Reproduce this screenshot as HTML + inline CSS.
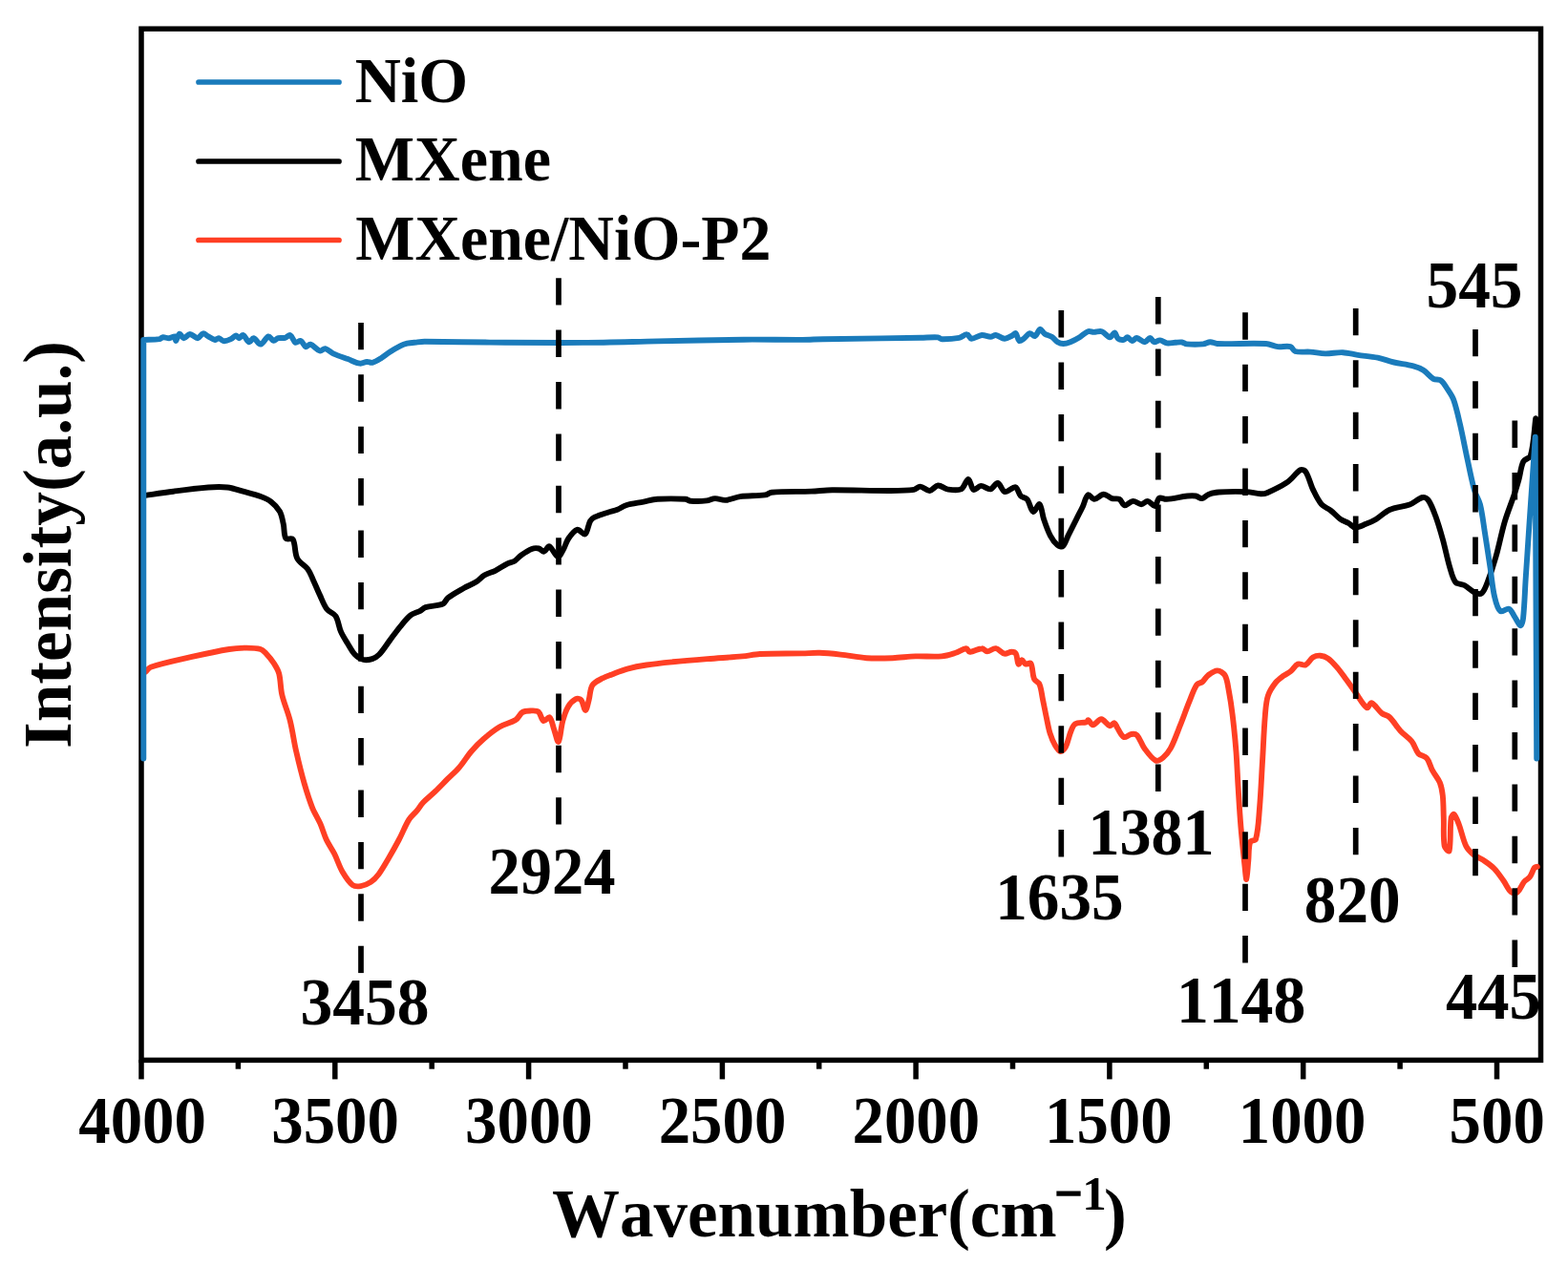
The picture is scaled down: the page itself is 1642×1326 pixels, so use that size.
<!DOCTYPE html>
<html><head><meta charset="utf-8"><title>FTIR spectra</title>
<style>html,body{margin:0;padding:0;background:#fff;}svg{display:block;}</style>
</head><body>
<svg width="1642" height="1326" viewBox="0 0 1642 1326">
<rect width="1642" height="1326" fill="#fff"/>
<g stroke="#000" stroke-width="5.5" fill="none">
<rect x="148" y="30.2" width="1465.5" height="1080.2"/>
<line x1="148.0" y1="1110" x2="148.0" y2="1130.4"/>
<line x1="249.4" y1="1110" x2="249.4" y2="1119.7"/>
<line x1="350.8" y1="1110" x2="350.8" y2="1130.4"/>
<line x1="452.2" y1="1110" x2="452.2" y2="1119.7"/>
<line x1="553.6" y1="1110" x2="553.6" y2="1130.4"/>
<line x1="655.0" y1="1110" x2="655.0" y2="1119.7"/>
<line x1="756.4" y1="1110" x2="756.4" y2="1130.4"/>
<line x1="857.7" y1="1110" x2="857.7" y2="1119.7"/>
<line x1="959.1" y1="1110" x2="959.1" y2="1130.4"/>
<line x1="1060.5" y1="1110" x2="1060.5" y2="1119.7"/>
<line x1="1161.9" y1="1110" x2="1161.9" y2="1130.4"/>
<line x1="1263.3" y1="1110" x2="1263.3" y2="1119.7"/>
<line x1="1364.7" y1="1110" x2="1364.7" y2="1130.4"/>
<line x1="1466.1" y1="1110" x2="1466.1" y2="1119.7"/>
<line x1="1567.5" y1="1110" x2="1567.5" y2="1130.4"/>
</g>
<g fill="none" stroke-width="5.9" stroke-linejoin="round" stroke-linecap="round">
<path d="M152.5 703.7 C154.1 702.2 155.5 699.4 157.8 698.7 C171.3 694.3 185.7 691.4 199.8 688.2 C213.1 685.2 226.5 682.2 240.0 680.0 C246.0 679.0 252.2 678.6 258.3 678.6 C263.2 678.6 268.4 678.7 272.9 680.0 C275.1 680.6 276.8 682.6 278.4 684.3 C281.5 687.6 284.4 691.1 286.9 694.8 C289.0 698.1 291.2 701.6 292.2 705.4 C294.0 712.6 293.6 720.3 295.3 727.6 C297.5 736.9 301.5 745.7 303.8 755.0 C306.4 765.4 307.7 776.2 310.1 786.7 C312.7 798.0 315.4 809.3 318.6 820.4 C321.1 829.0 323.7 837.5 327.0 845.8 C329.3 851.6 332.9 856.9 335.4 862.7 C337.8 868.2 339.3 874.1 341.8 879.5 C344.2 884.6 347.7 889.2 350.2 894.3 C353.3 900.5 355.2 907.3 358.7 913.3 C361.6 918.2 365.0 923.7 369.2 927.0 C371.3 928.6 375.0 928.5 377.7 928.1 C381.3 927.5 385.1 926.0 388.2 923.9 C391.5 921.7 394.3 918.6 396.7 915.4 C400.6 910.1 403.8 904.2 407.2 898.5 C410.9 892.2 414.4 885.9 417.8 879.5 C421.5 872.5 424.2 865.0 428.3 858.4 C430.5 854.8 434.1 852.2 436.8 848.9 C439.0 846.2 440.7 843.0 443.1 840.5 C447.0 836.4 451.7 832.9 455.8 828.9 C460.1 824.8 464.2 820.4 468.4 816.2 C472.6 812.0 477.2 808.1 481.1 803.6 C485.7 798.3 489.2 792.0 493.8 786.7 C497.7 782.2 501.9 777.9 506.4 774.0 C511.7 769.4 517.3 764.9 523.3 761.3 C528.5 758.2 535.0 757.3 540.0 754.1 C543.0 752.2 544.3 747.7 547.3 745.9 C549.8 744.4 553.4 744.5 556.4 744.4 C558.9 744.3 562.1 744.1 563.8 745.5 C566.3 747.6 566.8 753.8 569.2 755.0 C570.8 755.8 574.3 750.3 575.6 751.4 C578.0 753.4 578.7 759.9 580.2 764.1 C581.7 768.4 583.7 778.0 584.8 776.9 C586.7 775.0 587.3 762.2 589.3 755.0 C590.7 750.0 592.2 744.8 594.8 740.4 C596.7 737.2 599.9 733.8 603.0 732.2 C604.5 731.4 607.4 731.8 608.5 733.1 C610.8 735.8 611.7 744.0 613.1 744.0 C614.4 744.0 615.7 736.8 616.7 733.1 C618.1 728.0 617.7 721.8 620.4 717.6 C622.6 714.1 627.5 712.3 631.4 710.2 C634.2 708.6 637.4 707.7 640.5 706.6 C645.9 704.5 651.3 702.1 656.9 700.6 C663.5 698.8 670.2 697.5 677.0 696.5 C686.1 695.1 695.3 694.2 704.4 693.3 C716.6 692.1 728.8 691.1 741.0 690.1 C753.2 689.1 765.4 688.5 777.5 687.4 C783.6 686.8 789.7 685.3 795.8 685.0 C810.5 684.3 825.3 684.7 840.0 684.4 C846.1 684.3 852.2 683.6 858.3 683.8 C865.6 684.0 872.9 684.8 880.2 685.6 C889.4 686.6 898.4 688.6 907.6 689.2 C916.7 689.8 925.9 689.5 935.0 689.2 C942.9 688.9 950.9 687.7 958.8 687.4 C967.9 687.1 977.2 688.2 986.2 687.4 C991.2 687.0 996.0 685.3 1000.8 683.8 C1004.6 682.6 1008.4 679.4 1011.8 679.2 C1013.3 679.1 1013.9 682.8 1015.4 682.8 C1019.4 682.8 1024.1 679.3 1028.2 679.2 C1030.2 679.1 1031.8 682.3 1033.7 682.3 C1036.6 682.3 1039.9 678.8 1042.8 679.2 C1046.0 679.6 1048.7 684.0 1051.9 684.7 C1054.2 685.2 1056.9 682.8 1059.3 682.8 C1060.8 682.8 1063.1 683.4 1063.8 684.7 C1065.5 687.7 1065.2 694.2 1066.6 695.6 C1067.3 696.3 1069.0 691.1 1070.2 691.1 C1071.4 691.1 1072.3 695.0 1073.9 695.6 C1075.4 696.2 1078.6 693.4 1079.4 694.7 C1081.7 698.6 1080.9 706.2 1083.0 711.2 C1084.0 713.5 1087.5 714.3 1088.5 716.6 C1090.6 721.6 1090.9 727.6 1092.1 733.1 C1093.4 739.2 1094.5 745.3 1095.8 751.4 C1097.0 756.9 1097.8 762.5 1099.5 767.8 C1100.9 772.2 1102.6 776.6 1104.9 780.6 C1106.3 783.0 1108.4 786.7 1110.4 787.0 C1112.1 787.3 1114.8 784.5 1115.9 782.4 C1118.5 777.5 1119.2 771.3 1121.4 766.0 C1122.5 763.2 1123.6 759.6 1125.9 758.2 C1129.0 756.4 1133.9 757.3 1137.6 756.3 C1138.5 756.0 1138.9 754.0 1139.6 754.3 C1141.2 755.0 1142.7 759.3 1144.5 759.2 C1147.3 759.0 1150.4 753.1 1153.3 753.3 C1156.3 753.5 1159.1 759.3 1162.2 760.2 C1163.7 760.6 1165.8 757.0 1167.1 757.3 C1168.4 757.6 1168.9 760.6 1170.0 762.2 C1172.2 765.5 1174.0 770.7 1176.9 772.0 C1178.9 772.9 1182.0 769.4 1184.7 769.0 C1186.6 768.7 1189.3 768.7 1190.6 770.0 C1193.9 773.6 1195.3 779.5 1198.4 783.7 C1201.8 788.3 1205.8 794.3 1210.2 796.5 C1212.3 797.6 1215.9 795.2 1218.0 793.5 C1221.1 790.9 1223.9 787.4 1225.9 783.7 C1229.8 776.3 1232.5 768.1 1235.7 760.2 C1239.1 751.7 1242.1 743.1 1245.5 734.7 C1247.9 728.8 1249.9 722.2 1253.3 717.1 C1254.5 715.3 1257.5 715.5 1259.2 714.1 C1261.5 712.2 1262.7 709.1 1265.1 707.3 C1268.0 705.2 1271.7 702.4 1274.9 702.4 C1277.6 702.4 1281.3 704.8 1282.7 707.3 C1285.2 711.6 1285.7 717.6 1286.7 722.9 C1288.3 731.3 1289.6 739.9 1290.6 748.4 C1292.2 761.4 1293.5 774.5 1294.5 787.6 C1295.4 799.3 1295.8 811.1 1296.5 822.9 C1297.4 837.3 1298.2 851.7 1299.4 866.1 C1300.5 879.2 1301.9 892.2 1303.3 905.3 C1303.9 910.5 1304.7 921.6 1305.3 921.0 C1306.0 920.3 1306.6 907.9 1307.3 901.4 C1307.9 894.9 1307.3 887.4 1309.2 881.8 C1309.9 879.9 1314.5 880.8 1315.1 878.8 C1317.8 869.0 1318.1 857.3 1319.0 846.5 C1320.4 830.2 1321.0 813.8 1322.0 797.5 C1323.0 781.1 1323.5 764.7 1324.9 748.4 C1325.5 741.8 1325.8 735.0 1327.8 728.8 C1329.4 723.9 1332.5 719.2 1335.7 715.1 C1337.8 712.4 1340.7 710.3 1343.5 708.2 C1346.0 706.3 1349.0 705.2 1351.4 703.3 C1354.2 701.0 1356.2 696.8 1359.2 695.5 C1361.4 694.5 1364.9 697.5 1367.1 696.5 C1370.1 695.2 1371.9 690.5 1374.9 688.6 C1377.1 687.2 1380.1 686.5 1382.7 686.7 C1385.4 686.9 1388.4 688.0 1390.6 689.6 C1394.3 692.2 1397.4 695.9 1400.4 699.4 C1403.8 703.3 1406.7 707.6 1409.8 711.8 C1413.1 716.3 1416.3 721.0 1419.6 725.5 C1423.5 730.8 1427.3 738.5 1431.4 741.2 C1432.9 742.1 1434.7 735.7 1436.3 736.3 C1439.9 737.7 1443.2 744.0 1447.1 747.1 C1449.4 748.9 1452.8 749.0 1454.9 751.0 C1459.4 755.2 1462.5 761.1 1466.7 765.7 C1470.3 769.6 1475.2 772.4 1478.4 776.5 C1481.4 780.2 1482.2 785.7 1485.3 789.2 C1487.4 791.6 1492.1 791.6 1494.1 794.1 C1497.0 797.5 1497.8 802.8 1500.0 806.9 C1502.3 811.3 1505.9 815.1 1507.8 819.6 C1509.5 823.9 1510.3 828.7 1510.8 833.3 C1511.6 841.1 1511.5 849.0 1511.8 856.9 C1512.2 866.7 1511.1 877.0 1512.7 886.3 C1513.1 888.5 1517.2 892.8 1517.6 891.2 C1519.5 883.0 1518.2 868.1 1519.6 856.9 C1519.8 855.3 1521.7 852.3 1522.5 852.9 C1524.3 854.2 1526.2 859.3 1527.5 862.7 C1530.5 870.4 1531.8 879.0 1535.3 886.3 C1537.0 889.8 1540.1 892.7 1543.1 895.1 C1546.6 897.9 1551.1 899.4 1554.9 902.0 C1558.3 904.3 1561.8 906.8 1564.7 909.8 C1568.4 913.6 1571.4 918.2 1574.5 922.5 C1577.3 926.3 1579.1 931.6 1582.4 934.3 C1584.0 935.6 1587.6 935.5 1589.2 934.3 C1592.2 931.9 1593.4 926.8 1596.1 923.5 C1597.7 921.5 1600.5 920.6 1602.0 918.6 C1604.1 915.7 1604.9 911.6 1606.9 908.8 C1607.5 908.0 1608.9 908.1 1609.8 907.8" stroke="#ff3f24"/>
<path d="M152.3 518.9 C161.1 517.6 171.7 515.9 181.5 514.7 C193.7 513.1 205.9 511.4 218.1 510.5 C224.8 510.0 231.6 509.7 238.2 510.5 C243.8 511.1 249.2 513.2 254.6 514.7 C260.7 516.4 267.0 517.9 272.9 520.1 C276.7 521.5 280.7 523.1 283.9 525.6 C287.4 528.3 290.8 531.8 293.0 535.7 C295.1 539.5 295.7 544.2 296.7 548.5 C297.9 553.6 297.1 560.3 299.4 564.0 C300.5 565.7 305.7 563.1 306.7 564.9 C309.6 570.1 308.3 579.1 311.3 585.0 C313.5 589.4 319.1 591.9 322.2 596.0 C324.6 599.2 326.0 603.2 327.7 606.9 C330.2 612.3 332.4 618.0 335.0 623.4 C337.3 628.3 339.1 633.8 342.3 638.0 C344.6 641.1 349.5 642.1 351.5 645.3 C354.4 650.0 354.7 656.4 357.0 661.7 C359.0 666.2 361.7 670.3 364.3 674.5 C366.6 678.2 368.6 682.5 371.6 685.5 C374.0 688.0 377.4 690.2 380.7 691.0 C383.5 691.7 387.0 691.0 389.8 690.1 C392.5 689.2 395.1 687.6 397.1 685.5 C401.2 681.2 404.4 675.8 408.1 670.9 C411.8 666.0 415.2 661.0 419.1 656.3 C422.5 652.2 425.9 647.7 430.0 644.4 C432.8 642.2 436.8 641.5 440.0 639.8 C441.9 638.8 443.4 636.7 445.5 636.1 C451.4 634.3 458.3 634.8 463.8 632.5 C466.2 631.5 467.0 627.8 469.2 626.1 C474.3 622.3 480.1 619.2 485.7 616.0 C489.9 613.7 494.5 612.1 498.5 609.6 C501.8 607.5 504.3 604.2 507.6 602.3 C511.0 600.3 515.1 599.6 518.6 597.8 C523.0 595.6 527.0 592.6 531.4 590.4 C533.7 589.2 536.5 589.0 538.7 587.7 C541.4 586.0 543.4 583.2 546.0 581.3 C549.4 578.9 553.1 576.3 556.9 574.9 C559.1 574.1 561.9 574.0 564.2 574.5 C566.2 574.9 568.1 578.0 569.7 577.7 C571.7 577.3 573.5 571.6 575.2 572.2 C578.3 573.4 581.3 582.4 584.3 583.1 C586.2 583.6 588.3 578.4 589.8 575.8 C592.0 572.1 592.9 567.5 595.3 564.0 C597.7 560.5 601.1 555.7 604.4 554.8 C606.9 554.2 610.9 560.6 612.7 559.4 C615.5 557.6 615.7 549.9 618.1 545.7 C619.1 544.0 620.9 542.6 622.7 541.7 C627.3 539.5 632.4 538.1 637.3 536.5 C640.3 535.5 643.5 535.0 646.5 533.8 C649.6 532.5 652.4 530.2 655.6 529.2 C661.5 527.4 667.8 526.8 673.9 525.6 C678.8 524.7 683.6 523.1 688.5 522.8 C698.2 522.2 708.1 522.3 717.7 522.8 C719.6 522.9 721.3 524.6 723.2 524.7 C728.7 525.1 734.5 525.0 740.0 524.4 C743.0 524.1 745.8 522.2 748.8 522.1 C752.4 522.0 756.1 524.2 759.7 523.9 C764.9 523.5 769.9 520.8 775.1 520.1 C783.8 519.0 792.8 519.6 801.4 518.4 C803.7 518.1 805.6 515.9 808.0 515.7 C821.7 514.6 835.7 515.1 849.6 514.6 C856.9 514.3 864.2 513.4 871.5 513.3 C892.0 513.2 912.4 514.1 932.9 514.0 C941.0 514.0 949.2 514.0 957.1 512.9 C959.5 512.6 961.4 509.5 963.6 509.6 C966.9 509.8 970.3 514.2 973.5 514.0 C976.5 513.8 979.2 508.8 982.3 508.5 C985.4 508.2 988.7 511.8 992.1 512.4 C996.7 513.1 1002.6 514.2 1006.4 512.4 C1009.9 510.7 1011.9 501.8 1014.1 501.9 C1016.2 502.0 1016.9 511.5 1019.5 512.9 C1021.3 513.9 1024.5 509.0 1027.2 508.9 C1030.4 508.8 1034.1 512.9 1037.1 512.4 C1040.0 511.9 1042.5 505.5 1044.8 505.9 C1047.6 506.4 1049.3 514.4 1052.4 515.1 C1055.5 515.8 1060.5 509.5 1063.4 510.3 C1066.0 511.0 1066.5 517.0 1068.9 519.5 C1070.5 521.2 1074.0 521.0 1075.5 522.8 C1078.4 526.4 1079.4 534.8 1082.0 535.9 C1083.8 536.6 1087.2 527.2 1088.6 528.2 C1090.8 529.8 1091.3 538.6 1093.0 543.6 C1095.0 549.5 1097.0 555.6 1099.9 561.1 C1101.8 564.7 1104.5 568.5 1107.5 571.0 C1108.9 572.1 1111.9 573.1 1113.0 572.1 C1115.5 569.8 1116.7 564.8 1118.5 561.1 C1121.4 555.3 1124.4 549.4 1127.3 543.6 C1129.5 539.2 1131.8 534.8 1133.9 530.4 C1135.8 526.4 1136.8 520.0 1139.3 518.4 C1140.8 517.4 1143.6 522.9 1145.9 522.8 C1149.1 522.7 1152.5 517.8 1155.8 517.7 C1158.7 517.6 1161.5 521.2 1164.5 522.1 C1166.9 522.9 1170.1 521.7 1172.2 522.8 C1174.5 524.1 1175.5 529.0 1177.7 529.3 C1180.3 529.7 1183.5 525.1 1186.5 524.9 C1189.3 524.7 1192.4 528.2 1195.2 528.2 C1197.5 528.2 1199.7 524.6 1201.8 524.9 C1204.4 525.2 1207.5 530.5 1209.5 530.0 C1211.5 529.5 1211.7 523.0 1213.9 521.7 C1215.7 520.6 1219.0 523.0 1221.6 522.8 C1228.9 522.3 1236.2 520.3 1243.5 519.5 C1246.4 519.2 1249.4 519.0 1252.2 519.5 C1254.5 519.9 1256.7 522.4 1258.8 522.1 C1261.1 521.8 1263.0 518.8 1265.4 517.9 C1268.9 516.6 1272.7 515.8 1276.4 515.5 C1285.8 514.8 1295.4 514.7 1304.9 515.1 C1310.0 515.3 1315.1 517.0 1320.2 517.3 C1322.4 517.4 1324.8 517.1 1326.8 516.2 C1334.3 512.9 1342.0 509.2 1348.7 504.6 C1353.7 501.2 1357.2 494.7 1361.9 492.1 C1363.4 491.3 1366.4 492.7 1367.4 494.3 C1370.8 499.7 1372.1 506.9 1375.0 512.9 C1377.6 518.2 1380.1 523.8 1383.8 528.2 C1386.3 531.1 1390.6 532.4 1393.7 534.8 C1397.2 537.5 1400.0 541.1 1403.5 543.6 C1406.2 545.5 1409.5 546.4 1412.3 548.0 C1414.6 549.3 1416.5 552.2 1418.9 552.4 C1422.3 552.6 1426.3 550.5 1429.8 549.1 C1433.6 547.7 1437.3 546.1 1440.8 544.0 C1445.8 541.0 1449.9 536.3 1455.1 534.0 C1461.7 531.1 1469.4 531.0 1476.2 528.5 C1481.0 526.7 1485.2 522.0 1489.7 521.0 C1491.7 520.5 1494.6 522.2 1495.8 524.0 C1499.1 528.8 1501.2 534.9 1503.3 540.6 C1506.2 548.5 1508.5 556.6 1510.8 564.7 C1513.6 574.7 1515.4 585.0 1518.4 594.9 C1520.0 600.1 1521.2 606.2 1524.4 610.0 C1526.3 612.2 1530.7 611.5 1533.5 613.0 C1537.2 615.0 1540.2 618.7 1544.0 620.5 C1546.2 621.5 1549.8 622.7 1551.5 621.4 C1554.4 619.2 1556.0 614.0 1557.6 610.0 C1561.1 601.1 1564.0 592.0 1566.6 582.8 C1570.0 570.8 1572.2 558.5 1575.7 546.6 C1578.7 536.4 1582.9 526.6 1586.2 516.5 C1587.9 511.5 1589.3 506.5 1590.7 501.4 C1592.3 495.4 1592.6 488.6 1595.3 483.3 C1596.7 480.6 1602.0 480.2 1602.8 477.3 C1606.3 465.2 1606.6 449.9 1608.2 438.1 L1610.5 625.0" stroke="#000"/>
<path d="M150.3 794.5 150.3 356.0 C155.3 355.7 161.5 355.8 166.9 355.1 C168.2 354.9 169.3 353.4 170.6 353.3 C172.7 353.1 174.9 354.3 177.0 354.2 C179.2 354.0 182.0 351.9 183.4 352.4 C184.4 352.8 183.7 357.2 184.3 356.9 C185.3 356.3 186.5 350.1 188.0 349.6 C189.2 349.2 190.8 354.1 192.5 354.2 C194.5 354.3 196.7 350.0 198.9 350.0 C201.6 350.0 204.6 354.3 207.1 354.2 C209.1 354.1 210.6 349.6 212.6 349.3 C214.3 349.0 216.2 351.4 218.1 352.4 C220.5 353.7 223.0 355.6 225.4 356.0 C226.6 356.2 227.8 354.0 229.0 354.2 C230.9 354.5 232.6 357.2 234.5 357.3 C236.8 357.5 239.5 356.2 241.8 355.1 C243.8 354.2 245.6 351.6 247.3 351.4 C248.3 351.3 249.1 354.2 250.1 354.2 C251.5 354.1 253.3 350.6 254.6 351.1 C256.9 352.0 258.8 357.8 261.0 358.4 C262.4 358.8 264.0 353.9 265.6 354.2 C268.0 354.6 270.5 360.9 272.9 360.6 C275.7 360.3 278.3 353.2 281.1 352.4 C282.8 351.9 284.7 356.6 286.6 356.9 C288.0 357.2 289.5 354.6 291.2 354.2 C293.5 353.6 296.2 354.4 298.5 353.8 C300.4 353.3 302.6 350.4 304.0 351.1 C306.2 352.1 307.2 357.6 309.4 358.8 C310.8 359.5 313.4 356.3 314.9 356.9 C317.1 357.8 318.3 362.5 320.4 363.3 C321.7 363.8 323.5 360.2 325.0 360.6 C328.4 361.6 331.5 366.5 335.0 367.5 C336.7 368.0 338.7 364.7 340.5 365.1 C343.6 365.8 346.4 369.1 349.6 370.6 C354.3 372.8 359.4 374.3 364.3 376.1 C368.5 377.7 372.7 380.1 377.0 380.7 C379.4 381.0 381.9 379.1 384.4 378.9 C386.2 378.8 388.1 380.2 389.8 379.8 C393.0 379.0 396.1 377.0 399.0 375.2 C402.2 373.3 405.0 370.8 408.1 368.8 C411.7 366.5 415.3 364.3 419.1 362.4 C421.4 361.2 423.9 360.3 426.4 359.7 C429.9 358.9 433.7 358.8 437.3 358.4 C439.7 358.1 442.2 357.8 444.6 357.8 C467.4 357.9 490.2 358.4 513.0 358.6 C545.5 358.8 578.0 359.1 610.5 358.9 C636.5 358.7 662.5 357.9 688.5 357.4 C718.5 356.8 748.6 356.0 778.6 355.7 C799.1 355.5 819.5 356.0 840.0 355.9 C847.3 355.9 854.6 355.3 861.9 355.2 C896.0 354.6 930.1 354.3 964.2 353.8 C970.3 353.7 976.5 353.0 982.5 353.4 C983.8 353.5 984.9 355.2 986.2 355.2 C992.2 355.3 998.5 354.9 1004.4 353.8 C1007.3 353.2 1010.2 349.9 1012.7 350.1 C1014.5 350.2 1015.4 354.6 1017.2 354.7 C1020.5 354.9 1024.5 351.4 1028.2 351.0 C1031.2 350.7 1034.3 352.8 1037.3 352.8 C1039.2 352.8 1041.0 350.8 1042.8 351.0 C1045.9 351.4 1048.9 354.6 1052.0 354.7 C1054.7 354.8 1057.4 352.7 1060.0 351.5 C1061.3 350.9 1062.9 348.5 1063.7 349.1 C1065.3 350.3 1065.6 355.9 1067.3 357.0 C1068.4 357.7 1070.7 355.7 1072.2 354.6 C1074.4 353.0 1076.1 349.6 1078.3 349.1 C1080.0 348.7 1082.3 352.7 1083.8 352.1 C1085.9 351.3 1087.3 345.3 1089.2 344.8 C1090.7 344.5 1092.2 348.5 1094.1 349.7 C1096.3 351.1 1099.2 351.3 1101.4 352.7 C1103.7 354.1 1105.2 356.8 1107.5 358.2 C1109.3 359.3 1111.6 360.0 1113.6 360.0 C1116.0 360.0 1118.6 359.1 1120.9 358.2 C1124.2 356.9 1127.5 355.2 1130.6 353.3 C1133.6 351.5 1136.1 348.3 1139.2 347.2 C1141.0 346.5 1143.3 347.9 1145.3 347.9 C1148.1 347.9 1151.3 346.4 1153.8 347.2 C1156.9 348.2 1159.6 353.0 1162.3 353.3 C1164.1 353.5 1165.8 348.3 1167.2 348.5 C1168.6 348.7 1169.1 353.3 1170.8 354.6 C1172.3 355.7 1175.0 356.1 1176.9 355.8 C1178.3 355.6 1179.4 353.1 1180.6 353.3 C1182.3 353.5 1183.8 356.9 1185.5 357.0 C1187.1 357.1 1188.6 353.9 1190.3 354.0 C1193.1 354.3 1196.2 358.2 1198.9 358.2 C1200.8 358.2 1202.6 354.0 1204.3 354.0 C1205.8 354.0 1206.9 357.8 1208.6 358.2 C1210.4 358.6 1212.7 356.2 1214.7 356.4 C1217.2 356.6 1219.5 359.0 1222.0 359.4 C1224.7 359.8 1227.7 359.0 1230.5 358.8 C1232.9 358.7 1235.4 358.2 1237.8 358.5 C1239.5 358.7 1241.0 360.3 1242.7 360.4 C1248.4 360.9 1254.3 360.9 1260.0 360.4 C1262.5 360.2 1264.8 358.3 1267.3 358.2 C1269.7 358.1 1272.1 359.9 1274.6 360.0 C1291.6 360.5 1308.8 359.2 1325.8 360.0 C1330.0 360.2 1333.9 362.6 1338.0 363.1 C1342.4 363.6 1347.4 362.0 1351.4 363.1 C1353.5 363.7 1354.1 367.4 1356.2 368.0 C1361.0 369.3 1366.8 368.2 1372.1 368.6 C1377.4 369.0 1382.6 370.3 1387.9 370.4 C1394.0 370.5 1400.1 368.9 1406.2 369.2 C1411.5 369.4 1416.7 371.1 1422.0 371.9 C1428.9 372.9 1435.9 373.3 1442.7 374.7 C1448.5 375.9 1454.0 378.2 1459.8 379.5 C1466.5 381.0 1473.4 381.5 1480.0 383.3 C1483.7 384.3 1487.4 385.7 1490.6 387.8 C1494.4 390.3 1497.2 394.6 1501.1 396.9 C1503.3 398.2 1506.8 396.9 1508.7 398.4 C1511.8 400.7 1513.9 404.8 1516.2 408.2 C1518.4 411.6 1520.9 415.0 1522.2 418.8 C1525.1 427.0 1526.9 435.6 1528.9 444.1 C1531.7 456.1 1533.9 468.3 1536.5 480.3 C1538.9 491.4 1540.9 502.6 1544.0 513.5 C1545.4 518.7 1548.7 523.3 1550.0 528.5 C1552.2 537.4 1553.2 546.6 1554.6 555.7 C1556.7 568.8 1558.6 581.8 1560.6 594.9 C1562.1 604.9 1562.8 615.2 1565.1 625.0 C1566.3 630.2 1567.9 637.4 1571.1 640.1 C1572.9 641.7 1577.8 636.7 1580.2 637.7 C1582.8 638.7 1584.3 643.3 1586.2 646.1 C1588.3 649.1 1590.5 654.8 1592.2 655.2 C1593.4 655.5 1594.7 650.5 1595.0 648.0 C1596.5 634.1 1596.8 620.0 1597.7 606.0 C1598.9 587.9 1600.1 569.8 1601.3 551.7 C1602.5 533.6 1603.8 515.5 1605.0 497.4 C1605.9 484.1 1606.9 469.5 1607.7 457.6 L1609.2 794.5" stroke="#1a7bbb"/>
</g>
<g stroke="#000" stroke-width="5.7" fill="none">
<line x1="378.0" y1="337.9" x2="378.0" y2="1019.1" stroke-dasharray="28.4 26.0"/>
<line x1="585.0" y1="291.2" x2="585.0" y2="863.6" stroke-dasharray="28.4 26.0"/>
<line x1="1111.3" y1="325.1" x2="1111.3" y2="897.5" stroke-dasharray="28.4 26.0"/>
<line x1="1212.8" y1="311.0" x2="1212.8" y2="829.0" stroke-dasharray="28.4 26.0"/>
<line x1="1304.0" y1="327.3" x2="1304.0" y2="1008.5" stroke-dasharray="28.4 26.0"/>
<line x1="1419.7" y1="322.9" x2="1419.7" y2="895.3" stroke-dasharray="28.4 26.0"/>
<line x1="1545.0" y1="344.9" x2="1545.0" y2="917.3" stroke-dasharray="28.4 26.0"/>
<line x1="1586.3" y1="440.6" x2="1586.3" y2="1013.0" stroke-dasharray="28.4 26.0"/>
</g>
<g stroke-width="5.7" stroke-linecap="round">
<line x1="208" y1="86" x2="355" y2="86" stroke="#1a7bbb"/>
<line x1="208" y1="169" x2="355" y2="169" stroke="#000"/>
<line x1="208" y1="251.5" x2="355" y2="251.5" stroke="#ff3f24"/>
</g>
<g font-family='"Liberation Serif", "Times New Roman", serif' font-weight="bold" fill="#000" style="font-kerning:none">
<text transform="translate(371.63,106.93) scale(0.9877,1.0100)" font-size="67.5">NiO</text>
<text transform="translate(371.77,189.37) scale(0.9782,1.0100)" font-size="67.5">MXene</text>
<text transform="translate(372.27,272.23) scale(0.9758,1.0100)" font-size="67.5">MXene/NiO-P2</text>
<text transform="translate(314.56,1072.92) scale(1.0006,1.0270)" font-size="67.5">3458</text>
<text transform="translate(511.50,935.52) scale(0.9862,1.0270)" font-size="67.5">2924</text>
<text transform="translate(1042.22,963.02) scale(0.9951,1.0270)" font-size="67.5">1635</text>
<text transform="translate(1139.41,895.02) scale(0.9794,1.0270)" font-size="67.5">1381</text>
<text transform="translate(1231.88,1070.92) scale(1.0035,1.0270)" font-size="67.5">1148</text>
<text transform="translate(1365.77,965.92) scale(0.9965,1.0270)" font-size="67.5">820</text>
<text transform="translate(1493.50,321.72) scale(0.9982,1.0270)" font-size="67.5">545</text>
<text transform="translate(1514.09,1067.22) scale(0.9841,1.0270)" font-size="67.5">445</text>
<text transform="translate(82.29,1197.12) scale(0.9900,1.0270)" font-size="67.5">4000</text>
<text transform="translate(284.28,1197.12) scale(0.9900,1.0270)" font-size="67.5">3500</text>
<text transform="translate(487.06,1197.12) scale(0.9900,1.0270)" font-size="67.5">3000</text>
<text transform="translate(689.70,1197.12) scale(0.9900,1.0270)" font-size="67.5">2500</text>
<text transform="translate(892.48,1197.12) scale(0.9900,1.0270)" font-size="67.5">2000</text>
<text transform="translate(1094.00,1197.12) scale(0.9900,1.0270)" font-size="67.5">1500</text>
<text transform="translate(1296.78,1197.12) scale(0.9900,1.0270)" font-size="67.5">1000</text>
<text transform="translate(1517.61,1197.12) scale(0.9900,1.0270)" font-size="67.5">500</text>
<text transform="translate(578.09,1295.00) scale(0.9930,1.0000)" font-size="71.5">Wavenumber(cm</text>
<text x="1104.3" y="1266.5" font-size="51"><tspan stroke="#000" stroke-width="1.6">−</tspan>1</text>
<text x="1155.9" y="1295" font-size="71.5">)</text>
<text transform="translate(73.9,784.00) rotate(-90) scale(0.9956,1)" font-size="71.5">Intensity(a.u.)</text>
</g>
</svg>
</body></html>
